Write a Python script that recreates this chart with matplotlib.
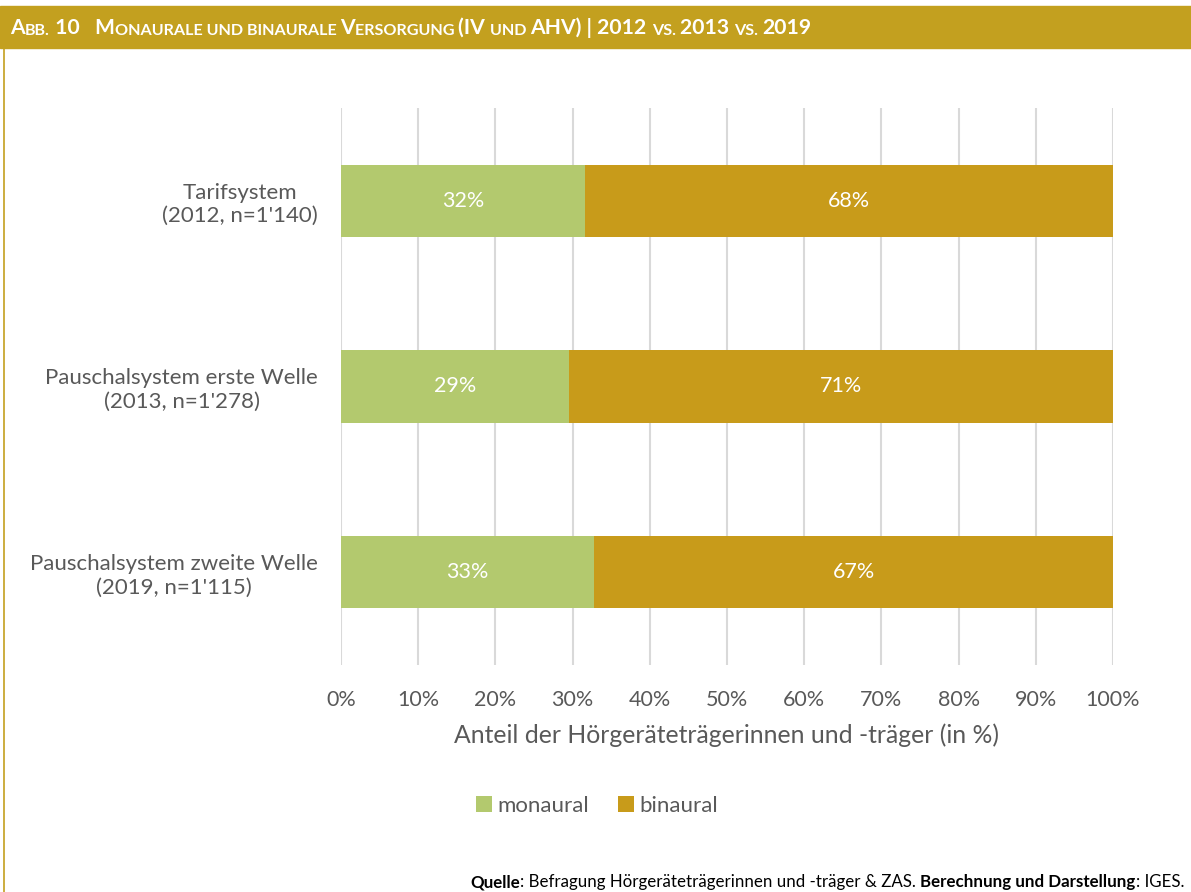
import matplotlib
matplotlib.use("Agg")
from matplotlib import pyplot as plt
from matplotlib.patches import Rectangle
from matplotlib.lines import Line2D
from matplotlib.text import Annotation

plt.rcParams['font.family'] = ['Lato', 'DejaVu Sans']

# data
kategorien = ["Tarifsystem\n(2012, n=1'140)",
              "Pauschalsystem erste Welle\n(2013, n=1'278)",
              "Pauschalsystem zweite Welle\n(2019, n=1'115)"]
monaural = [31.6, 29.5, 32.8]
binaural = [68.4, 70.5, 67.2]
label_mon = ["32%", "29%", "33%"]
label_bin = ["68%", "71%", "67%"]
xticks = [0, 10, 20, 30, 40, 50, 60, 70, 80, 90, 100]

c_mon = '#B3C96E'
c_bin = '#C89B1A'
c_head = '#C3A01F'
grau = '#595959'

W, H = 1191, 892
fig = plt.figure(figsize=(W / 100, H / 100), dpi=100)

# Kopfzeile
fig.patches.append(Rectangle((0, 1 - 48 / H), 1, 42 / H, transform=fig.transFigure,
                             color=c_head, zorder=0))
fig.lines.append(Line2D([4 / W, 4 / W], [0, 1 - 48 / H], transform=fig.transFigure,
                        color=c_head, lw=1.2))

# Titel in Kapitaelchen
titel = [("A", 1), ("BB.", 0), (" 10   ", 1), ("M", 1), ("ONAURALE UND BINAURALE ", 0),
         ("V", 1), ("ERSORGUNG ", 0), ("(IV ", 1), ("UND ", 0), ("AHV) | 2012 ", 1),
         ("VS. ", 0), ("2013 ", 1), ("VS. ", 0), ("2019", 1)]
last = None
for txt, gross in titel:
    fs = 15.2 if gross else 11.6
    if last is None:
        last = fig.text(10 / W, 1 - 38 / H, txt, fontsize=fs, fontweight='bold',
                        color='white', va='bottom', ha='left')
    else:
        last = fig.add_artist(Annotation(txt, xy=(1, 0), xycoords=last, va='bottom', ha='left',
                                         fontsize=fs, fontweight='bold', color='white'))

ax = fig.add_axes([341 / W, 1 - 665 / H, 772 / W, 557 / H])
y = range(len(kategorien))
ax.barh(y, monaural, height=0.39, color=c_mon, label='monaural', zorder=3)
ax.barh(y, binaural, left=monaural, height=0.39, color=c_bin, label='binaural', zorder=3)

for i in y:
    ax.text(monaural[i] / 2, i, label_mon[i], ha='center', va='center', color='white', fontsize=15.5, zorder=4)
    ax.text(monaural[i] + binaural[i] / 2, i, label_bin[i], ha='center', va='center', color='white', fontsize=15.5, zorder=4)

ax.set_xlim(0, 100)
ax.set_ylim(2.5, -0.5)
ax.set_xticks(xticks)
ax.set_xticklabels([f"{t}%" for t in xticks], fontsize=15.5, color=grau)
ax.set_yticks(list(y))
ax.set_yticklabels(kategorien, fontsize=16, color=grau, multialignment='center')
ax.tick_params(axis='x', length=0, pad=18)
ax.tick_params(axis='y', length=0, pad=16.5)
ax.grid(axis='x', color='#D9D9D9', lw=1.5, zorder=0)
for s in ax.spines.values():
    s.set_visible(False)
ax.set_xlabel("Anteil der Hörgeräteträgerinnen und -träger (in %)", fontsize=17.8, color=grau, labelpad=10)

fig.legend(loc='center', bbox_to_anchor=(597 / W, 1 - 806 / H), ncol=2, frameon=False,
           fontsize=16, labelcolor=grau, handlelength=0.7, handleheight=0.7,
           handletextpad=0.25, columnspacing=1.3)

# Quelle rechtsbuendig
quelle = [("Quelle", 'bold'), (": Befragung Hörgeräteträgerinnen und -träger & ZAS. ", 'normal'),
          ("Berechnung und Darstellung", 'bold'), (": IGES.", 'normal')]
nxt = None
for txt, fw in reversed(quelle):
    if nxt is None:
        nxt = fig.text(1184 / W, 1 - 890 / H, txt, fontsize=12.2, fontweight=fw,
                       color='black', ha='right', va='bottom')
    else:
        nxt = fig.add_artist(Annotation(txt, xy=(0, 0), xycoords=nxt, ha='right', va='bottom',
                                        fontsize=12.2, fontweight=fw, color='black'))

fig.savefig('out.png', dpi=100)
